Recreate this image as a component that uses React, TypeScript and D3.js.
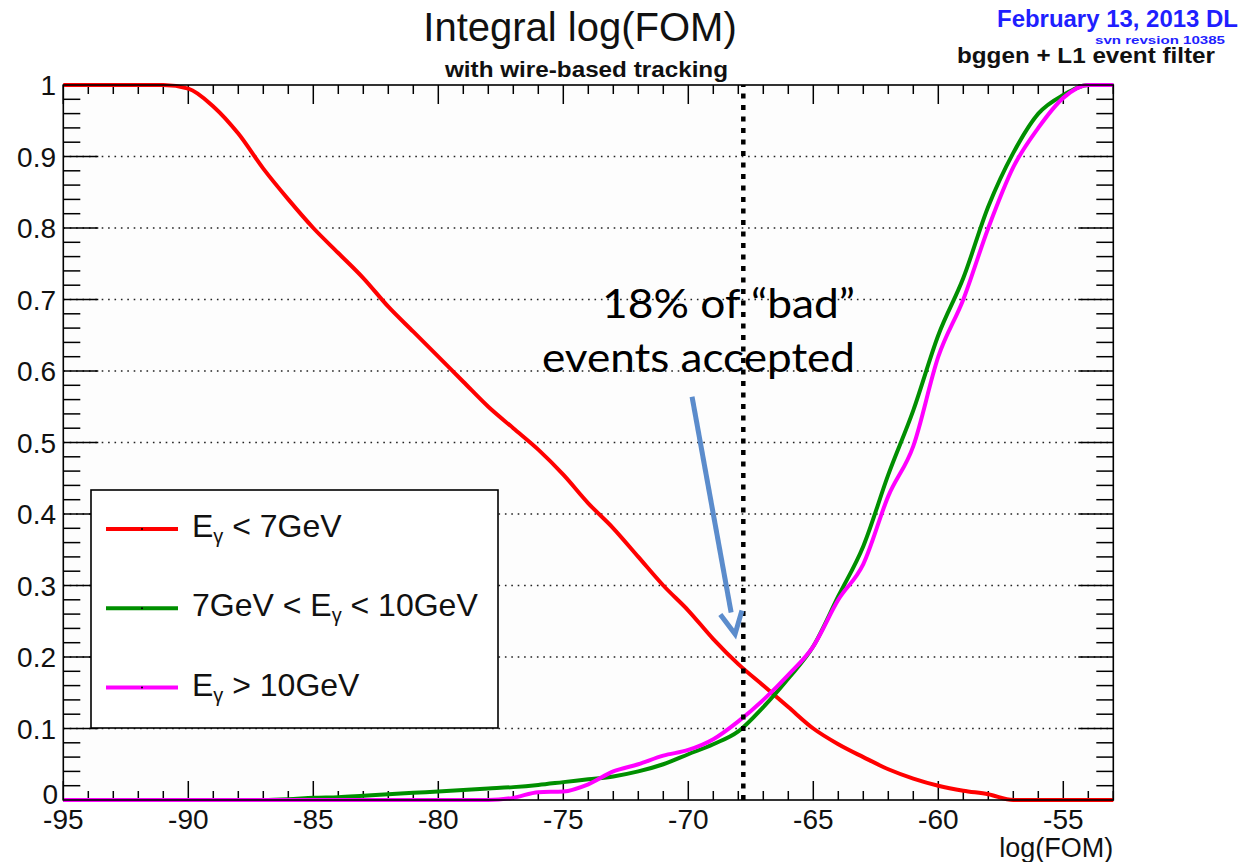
import React from 'react';
import * as d3 from 'd3';

// bin centres of the integral histograms (log(FOM))
const logFom = [
  -95, -94, -93, -92, -91, -90, -89, -88, -87, -86, -85, -84, -83, -82, -81,
  -80, -79, -78, -77, -76, -75, -74, -73, -72, -71, -70, -69, -68, -67, -66,
  -65, -64, -63, -62, -61, -60, -59, -58, -57, -56, -55, -54, -53,
];

// E_gamma < 7GeV
const lowE = [
  1, 1, 1, 1, 1, 0.995, 0.97, 0.932, 0.883, 0.84, 0.8, 0.765, 0.73, 0.69, 0.655,
  0.62, 0.585, 0.55, 0.52, 0.49, 0.455, 0.415, 0.38, 0.34, 0.3, 0.265, 0.225, 0.19, 0.16, 0.13,
  0.1, 0.078, 0.06, 0.043, 0.03, 0.02, 0.013, 0.008, 0, 0, 0, 0, 0,
];

// 7GeV < E_gamma < 10GeV
const midE = [
  0, 0, 0, 0, 0, 0, 0, 0, 0, 0.001, 0.003, 0.004, 0.006, 0.008, 0.01,
  0.012, 0.014, 0.016, 0.018, 0.021, 0.025, 0.029, 0.033, 0.04, 0.05, 0.064, 0.078, 0.096, 0.13, 0.17,
  0.215, 0.285, 0.355, 0.455, 0.545, 0.65, 0.73, 0.83, 0.905, 0.96, 0.986, 1, 1,
];

// E_gamma > 10GeV
const highE = [
  0, 0, 0, 0, 0, 0, 0, 0, 0, 0, 0, 0, 0, 0, 0,
  0, 0, 0, 0.003, 0.011, 0.012, 0.022, 0.04, 0.05, 0.062, 0.07, 0.085, 0.11, 0.14, 0.175,
  0.215, 0.28, 0.33, 0.425, 0.495, 0.62, 0.7, 0.8, 0.885, 0.94, 0.982, 1, 1,
];

const xMajorTicks = [-95, -90, -85, -80, -75, -70, -65, -60, -55];
const yMajorTicks = [0, 0.1, 0.2, 0.3, 0.4, 0.5, 0.6, 0.7, 0.8, 0.9, 1];
const yTickLabels = ['0', '0.1', '0.2', '0.3', '0.4', '0.5', '0.6', '0.7', '0.8', '0.9', '1'];

const cutValue = -67.8;
// arrow of the annotation, in data units
const arrowFrom = { x: -69.85, y: 0.564 };
const arrowTo = { x: -68.13, y: 0.232 };

const series = [
  { name: 'low', values: lowE, color: '#ff0000' },
  { name: 'mid', values: midE, color: '#008f00' },
  { name: 'high', values: highE, color: '#ff00ff' },
];

const W = 1241;
const H = 862;
const frame = { left: 63.3, right: 1113.3, top: 85, bottom: 800 };
const font = '"Liberation Sans", Arial, Helvetica, sans-serif';

export default function App() {
  const x = d3.scaleLinear().domain([-95, -53]).range([frame.left, frame.right]);
  const y = d3.scaleLinear().domain([0, 1]).range([frame.bottom, frame.top]);

  const line = d3
    .line<number>()
    .x((_, i) => x(logFom[i]))
    .y((d) => y(d))
    .curve(d3.curveMonotoneX);

  const xMinor = d3.range(-95, -52, 1).filter((v) => !xMajorTicks.includes(v));
  const yMinor = d3.range(0, 50).map((i) => i / 50).filter((v, i) => i % 5 !== 0);

  // arrowhead geometry
  const ax0 = x(arrowFrom.x), ay0 = y(arrowFrom.y);
  const ax1 = x(arrowTo.x), ay1 = y(arrowTo.y);
  const ang = Math.atan2(ay1 - ay0, ax1 - ax0);
  const headLen = 22, headW = 11;
  const bx = ax1 - headLen * Math.cos(ang), by = ay1 - headLen * Math.sin(ang);
  const hx1 = bx + headW * Math.sin(ang), hy1 = by - headW * Math.cos(ang);
  const hx2 = bx - headW * Math.sin(ang), hy2 = by + headW * Math.cos(ang);

  const legendItems = [
    { color: '#ff0000', pre: 'E', sub: 'γ', post: ' < 7GeV' },
    { color: '#008f00', pre: '7GeV < E', sub: 'γ', post: ' < 10GeV' },
    { color: '#ff00ff', pre: 'E', sub: 'γ', post: ' > 10GeV' },
  ];

  return (
    <svg
      width={W}
      height={H}
      style={{ position: 'absolute', left: 0, top: 0, background: '#fff' }}
      fontFamily={font}
    >
      <rect x={0} y={0} width={W} height={H} fill="#fff" />
      <rect
        x={frame.left}
        y={frame.top}
        width={frame.right - frame.left}
        height={frame.bottom - frame.top}
        fill="#fdfdfd"
      />

      {/* dotted grid */}
      {yMajorTicks.slice(1, -1).map((v) => (
        <line
          key={'g' + v}
          x1={frame.left}
          x2={frame.right}
          y1={y(v)}
          y2={y(v)}
          stroke="#222"
          strokeWidth={1.6}
          strokeDasharray="1.6 4.8"
        />
      ))}

      {/* ticks: bottom and top */}
      {xMinor.map((v) => (
        <g key={'xm' + v} stroke="#000" strokeWidth={1.5}>
          <line x1={x(v)} x2={x(v)} y1={frame.bottom} y2={frame.bottom - 9} />
          <line x1={x(v)} x2={x(v)} y1={frame.top} y2={frame.top + 9} />
        </g>
      ))}
      {xMajorTicks.map((v) => (
        <g key={'xM' + v} stroke="#000" strokeWidth={1.5}>
          <line x1={x(v)} x2={x(v)} y1={frame.bottom} y2={frame.bottom - 19} />
          <line x1={x(v)} x2={x(v)} y1={frame.top} y2={frame.top + 19} />
        </g>
      ))}
      {/* ticks: left and right */}
      {yMinor.map((v) => (
        <g key={'ym' + v} stroke="#000" strokeWidth={1.5}>
          <line x1={frame.left} x2={frame.left + 17} y1={y(v)} y2={y(v)} />
          <line x1={frame.right} x2={frame.right - 17} y1={y(v)} y2={y(v)} />
        </g>
      ))}
      {yMajorTicks.map((v) => (
        <g key={'yM' + v} stroke="#000" strokeWidth={1.5}>
          <line x1={frame.left} x2={frame.left + 35} y1={y(v)} y2={y(v)} />
          <line x1={frame.right} x2={frame.right - 35} y1={y(v)} y2={y(v)} />
        </g>
      ))}

      {/* curves */}
      {series.map((s) => (
        <path
          key={s.name}
          d={line(s.values) || ''}
          fill="none"
          stroke={s.color}
          strokeWidth={4}
          strokeLinejoin="round"
        />
      ))}

      {/* cut line */}
      <line
        x1={x(cutValue)}
        x2={x(cutValue)}
        y1={y(0)}
        y2={y(1)}
        stroke="#000"
        strokeWidth={4.5}
        strokeDasharray="5 6.5"
      />

      {/* frame */}
      <rect
        x={frame.left}
        y={frame.top}
        width={frame.right - frame.left}
        height={frame.bottom - frame.top}
        fill="none"
        stroke="#000"
        strokeWidth={1.6}
      />

      {/* tick labels */}
      {xMajorTicks.map((v) => (
        <text key={'xl' + v} x={x(v)} y={829} textAnchor="middle" fontSize={28} fill="#111">
          {v}
        </text>
      ))}
      {yMajorTicks.map((v, i) => (
        <text
          key={'yl' + v}
          x={v === 0 ? 58 : 56}
          y={y(v) + (v === 0 ? 4 : 10)}
          textAnchor="end"
          fontSize={28}
          fill="#111"
        >
          {yTickLabels[i]}
        </text>
      ))}
      <text x={frame.right} y={857} textAnchor="end" fontSize={27} fill="#111">
        log(FOM)
      </text>

      {/* titles */}
      <text x={580} y={41} textAnchor="middle" fontSize={40} fill="#111">
        Integral log(FOM)
      </text>
      <text x={445} y={77} fontSize={22} fontWeight="bold" fill="#111" textLength={283} lengthAdjust="spacingAndGlyphs">
        with wire-based tracking
      </text>
      <text x={997} y={27} fontSize={24} fontWeight="bold" fill="#1f1fff" textLength={241} lengthAdjust="spacingAndGlyphs">
        February 13, 2013 DL
      </text>
      <text x={1095} y={44} fontSize={11} fontWeight="bold" fill="#1f1fff" textLength={130} lengthAdjust="spacingAndGlyphs">
        svn revsion 10385
      </text>
      <text x={957} y={63} fontSize={22} fontWeight="bold" fill="#111" textLength={258} lengthAdjust="spacingAndGlyphs">
        bggen + L1 event filter
      </text>

      {/* legend */}
      <rect x={91} y={490} width={407} height={238} fill="#fff" stroke="#000" strokeWidth={1.6} />
      {legendItems.map((d, i) => {
        const ly = 529 + i * 79.3;
        return (
          <g key={'lg' + i}>
            <line x1={106} x2={178} y1={ly} y2={ly} stroke={d.color} strokeWidth={4} />
            <circle cx={142} cy={ly} r={1} fill="#000" />
            <text x={192} y={ly + 8} fontSize={32} fill="#111">
              {d.pre}
              <tspan fontSize={20} dy={6}>{d.sub}</tspan>
              <tspan dy={-6}>{d.post}</tspan>
            </text>
          </g>
        );
      })}

      {/* annotation */}
      <text x={602} y={318} fontSize={40} fontFamily="Lato, 'Open Sans', sans-serif" fill="#000" textLength={253} lengthAdjust="spacingAndGlyphs">
        18% of “bad”
      </text>
      <text x={542} y={372} fontSize={40} fontFamily="Lato, 'Open Sans', sans-serif" fill="#000" textLength={313} lengthAdjust="spacingAndGlyphs">
        events accepted
      </text>
      <line x1={ax0} y1={ay0} x2={bx} y2={by} stroke="#5b8ccc" strokeWidth={5} />
      <polyline
        points={`${hx1},${hy1} ${ax1},${ay1} ${hx2},${hy2}`}
        fill="none"
        stroke="#5b8ccc"
        strokeWidth={5}
        strokeLinejoin="miter"
      />
    </svg>
  );
}
